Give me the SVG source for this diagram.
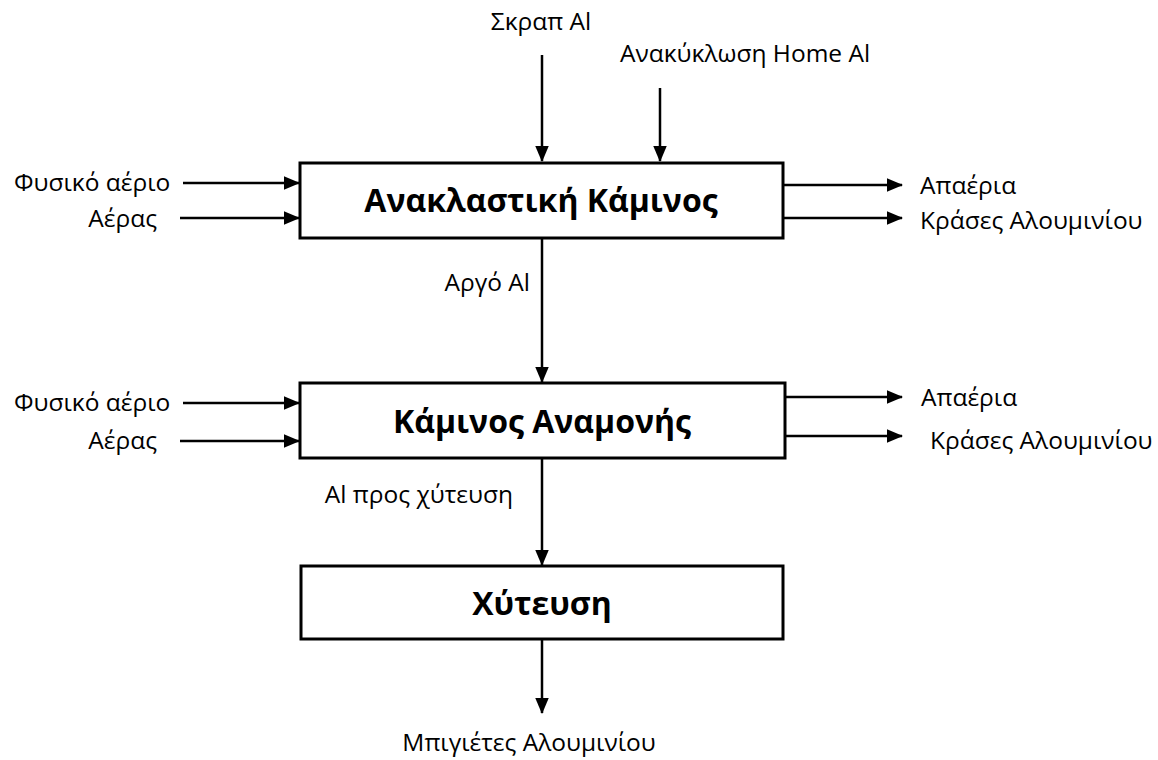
<svg xmlns="http://www.w3.org/2000/svg" width="1158" height="760" viewBox="0 0 1158 760">
<style>
.box{fill:#fff;stroke:#000;stroke-width:3}
.t{font-family:"Open Sans","Noto Sans",sans-serif;font-size:24.5px;fill:#000}
.b{font-family:"Open Sans","Noto Sans",sans-serif;font-size:32px;font-weight:bold;fill:#000;text-anchor:middle}
.c line{stroke:#000;stroke-width:2.5;marker-end:url(#ah)}
</style>
<defs>
<marker id="ah" markerWidth="6.4" markerHeight="6.4" refX="6" refY="3.2" orient="auto" markerUnits="strokeWidth" viewBox="0 0 6.4 6.4">
<path d="M0,0.5 L6.4,3.2 L0,5.9 Z" fill="#000"/>
</marker>
</defs>
<rect width="1158" height="760" fill="#fff"/>
<g id="connectors" class="c">
<line x1="542" y1="55" x2="542" y2="161"/>
<line x1="660" y1="88" x2="660" y2="161"/>
<line x1="183" y1="183" x2="299" y2="183"/>
<line x1="180" y1="218" x2="299" y2="218"/>
<line x1="784" y1="185" x2="902" y2="185"/>
<line x1="784" y1="218" x2="902" y2="218"/>
<line x1="542" y1="239" x2="542" y2="382"/>
<line x1="183" y1="403" x2="299" y2="403"/>
<line x1="180" y1="441" x2="299" y2="441"/>
<line x1="786" y1="397" x2="902" y2="397"/>
<line x1="786" y1="436" x2="902" y2="436"/>
<line x1="542" y1="459" x2="542" y2="565"/>
<line x1="542" y1="640" x2="542" y2="713"/>
</g>
<g id="n1"><rect class="box" x="300" y="163" width="483" height="75"/><text class="b" x="541" y="212">Ανακλαστική Κάμινος</text></g>
<g id="n2"><rect class="box" x="300" y="383" width="485" height="75"/><text class="b" x="542" y="433">Κάμινος Αναμονής</text></g>
<g id="n3"><rect class="box" x="301" y="566" width="482" height="73"/><text class="b" x="542" y="615">Χύτευση</text></g>
<g id="labels">
<text class="t" x="541" y="30" text-anchor="middle">Σκραπ Al</text>
<text class="t" x="620" y="62">Ανακύκλωση Home Al</text>
<text class="t" x="14" y="191">Φυσικό αέριο</text>
<text class="t" x="157" y="227" text-anchor="end">Αέρας</text>
<text class="t" x="920" y="194">Απαέρια</text>
<text class="t" x="920" y="229">Κράσες Αλουμινίου</text>
<text class="t" x="530" y="291" text-anchor="end">Αργό Al</text>
<text class="t" x="14" y="411">Φυσικό αέριο</text>
<text class="t" x="157" y="449" text-anchor="end">Αέρας</text>
<text class="t" x="921" y="406">Απαέρια</text>
<text class="t" x="930" y="449">Κράσες Αλουμινίου</text>
<text class="t" x="513" y="503" text-anchor="end">Al προς χύτευση</text>
<text class="t" x="529" y="751" text-anchor="middle">Μπιγιέτες Αλουμινίου</text>
</g>
</svg>
